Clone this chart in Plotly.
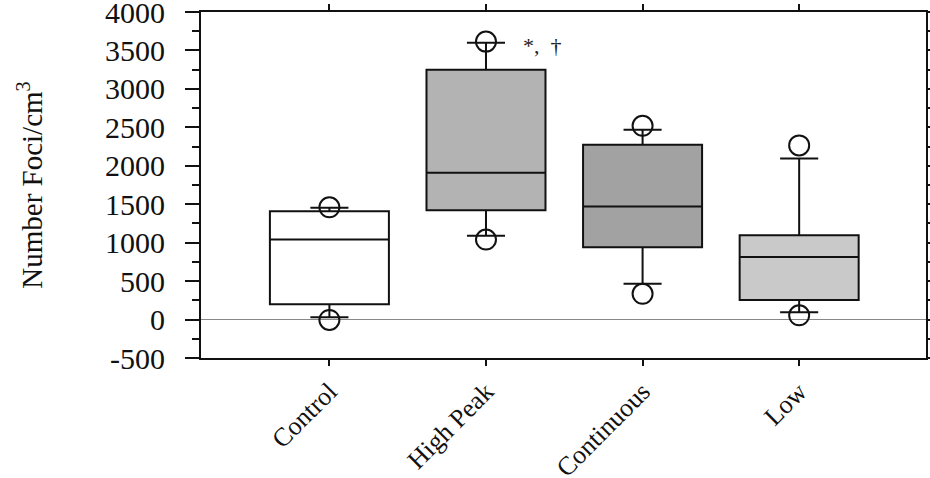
import plotly.graph_objects as go

categories = ["Control", "High Peak", "Continuous", "Low"]
q1 = [200, 1420, 940, 255]
median = [1040, 1910, 1470, 815]
q3 = [1410, 3250, 2275, 1095]
lower_whisker = [30, 1090, 465, 95]
upper_whisker = [1455, 3600, 2470, 2095]
low_points = [-5, 1040, 335, 55]
high_points = [1460, 3615, 2520, 2265]
fills = ["#ffffff", "#b3b3b3", "#a2a2a2", "#c9c9c9"]
ytick_vals = [-500, 0, 500, 1000, 1500, 2000, 2500, 3000, 3500, 4000]
ytick_text = ["-500", "0", "500", "1000", "1500", "2000", "2500", "3000", "3500", "4000"]

FONT = "Liberation Serif, Times New Roman, serif"

fig = go.Figure()

for i, cat in enumerate(categories):
    fig.add_trace(go.Box(
        x=[cat],
        q1=[q1[i]], median=[median[i]], q3=[q3[i]],
        lowerfence=[lower_whisker[i]], upperfence=[upper_whisker[i]],
        width=0.76,
        whiskerwidth=0.32,
        fillcolor=fills[i],
        line=dict(color="#111111", width=2),
        boxpoints=False,
        hoverinfo="skip",
    ))

fig.add_trace(go.Scatter(
    x=categories + categories,
    y=low_points + high_points,
    mode="markers",
    marker=dict(symbol="circle-open", size=20, color="#111111",
                line=dict(width=2, color="#111111")),
    hoverinfo="skip",
))

fig.add_annotation(x=1.36, y=3560, text="*,  †", showarrow=False,
                   font=dict(family=FONT, size=22, color="#222222"))

fig.update_layout(
    width=930, height=478,
    margin=dict(l=201, r=4, t=12, b=120),
    paper_bgcolor="white", plot_bgcolor="white",
    showlegend=False,
    font=dict(family=FONT, size=28, color="#111111"),
)

fig.update_xaxes(
    type="category",
    range=[-0.82, 3.81],
    automargin=False,
    showline=True, linecolor="#111111", linewidth=2, mirror="ticks",
    ticks="outside", ticklen=6, tickwidth=1.5, tickcolor="#111111",
    tickangle=-45, tickfont=dict(family=FONT, size=26),
    showgrid=False,
)

fig.update_yaxes(
    range=[-500, 4000],
    tickvals=ytick_vals, ticktext=ytick_text,
    automargin=False,
    showline=True, linecolor="#111111", linewidth=2, mirror="ticks",
    ticks="outside", ticklen=14, tickwidth=1.5, tickcolor="#111111",
    minor=dict(dtick=250, ticks="outside", ticklen=7, tickwidth=1.5, tickcolor="#111111"),
    tickfont=dict(family=FONT, size=30),
    ticklabelstandoff=14,
    ticklabeloverflow="allow",
    showgrid=False,
    zeroline=True, zerolinecolor="#888888", zerolinewidth=1,
    title=dict(text="Number Foci/cm<sup>3</sup>", font=dict(family=FONT, size=29), standoff=54),
)

# drop the default body margin so the figure fills the window exactly
fig.write_html("out.html",
               config={"displayModeBar": False},
               post_script="document.body.style.margin='0';document.body.style.overflow='hidden';")
